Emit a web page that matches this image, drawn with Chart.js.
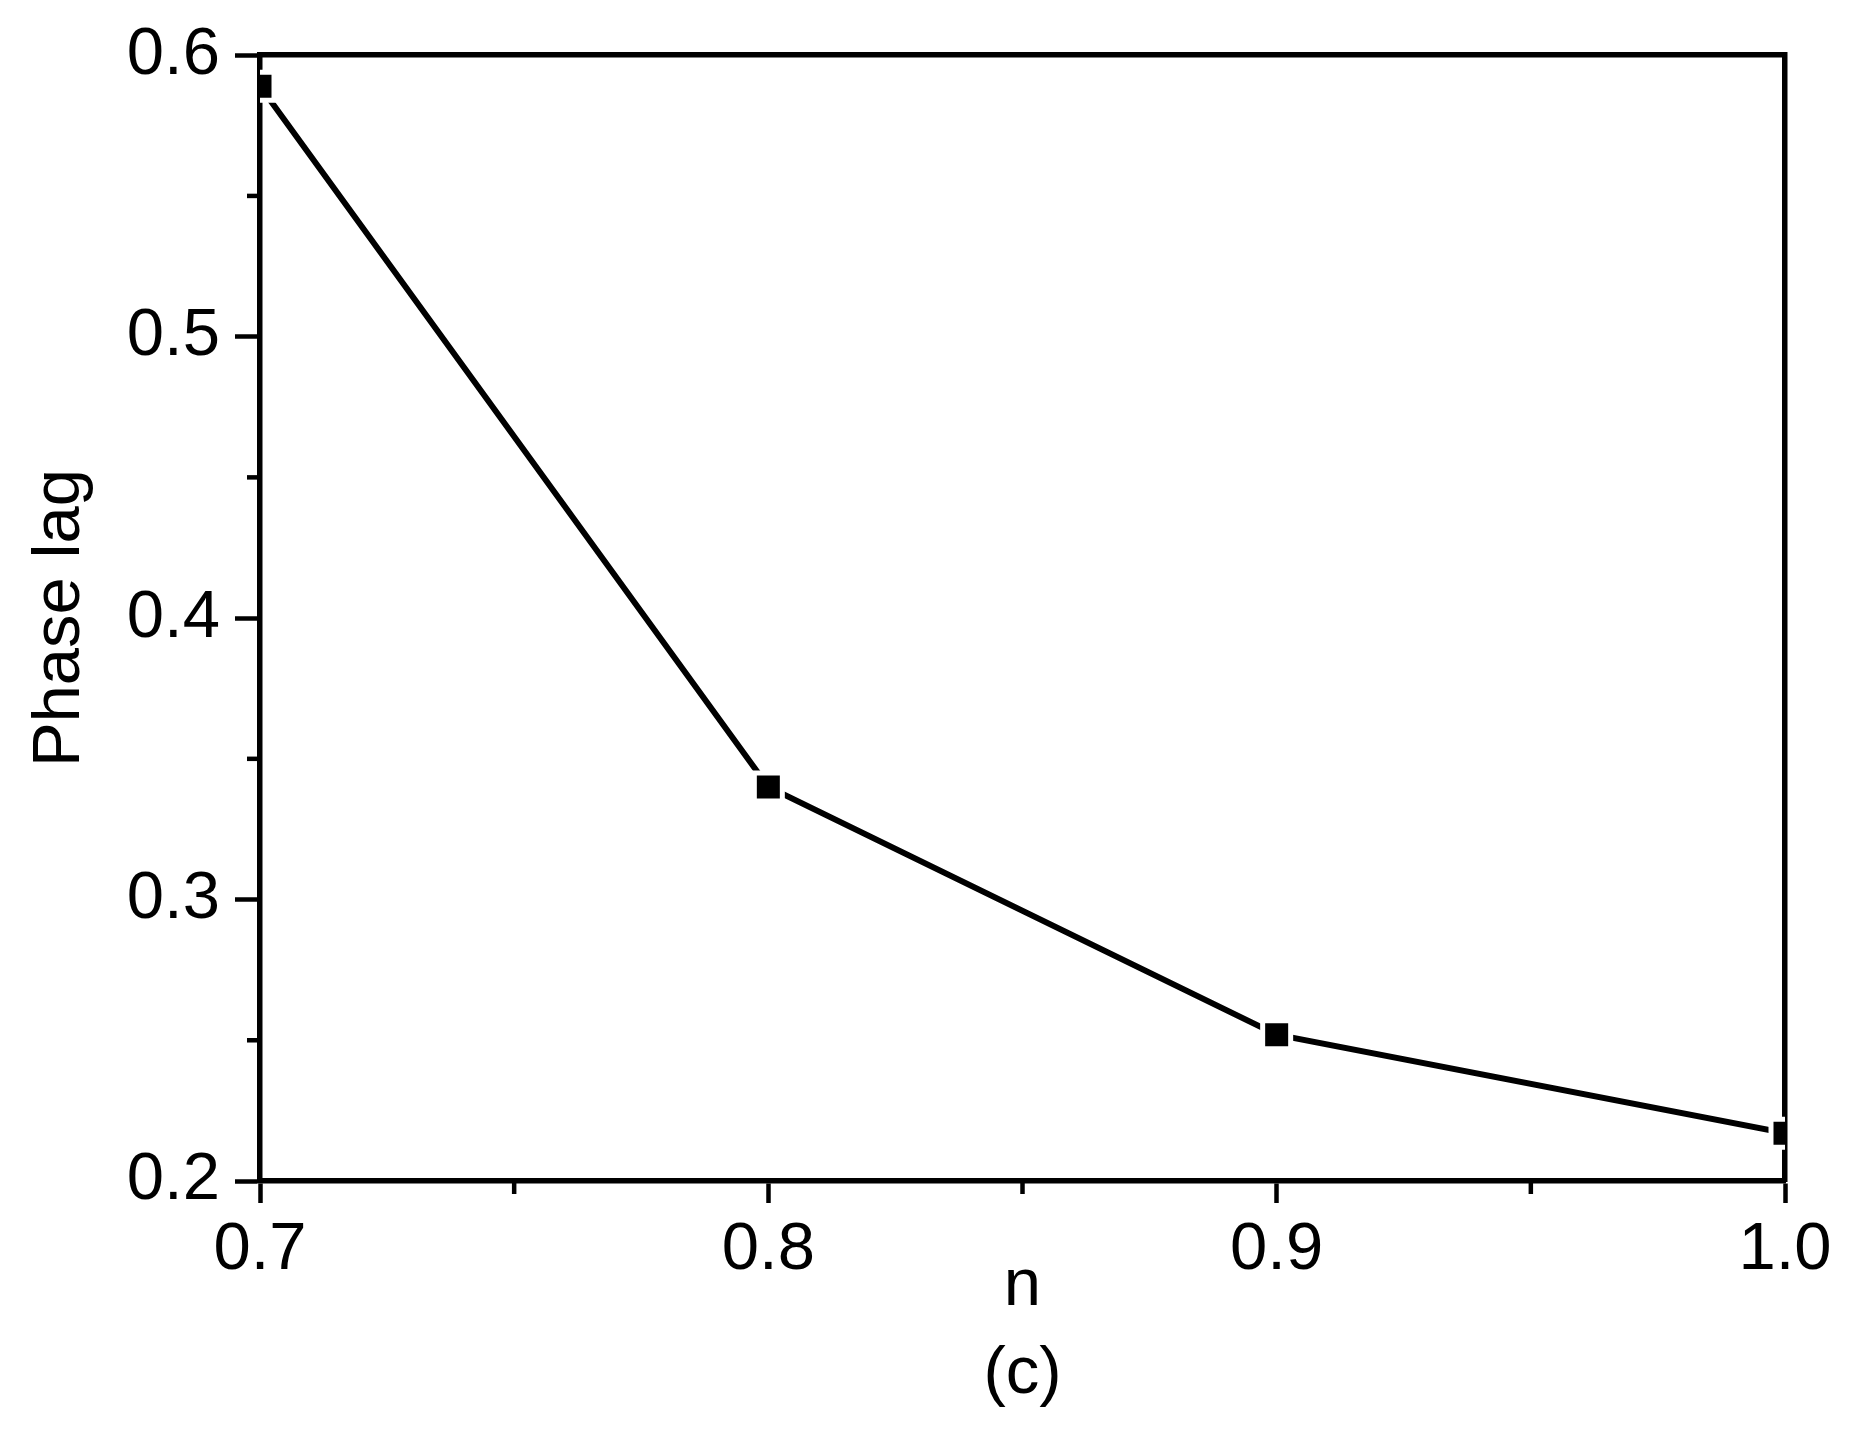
<!DOCTYPE html>
<html>
<head>
<meta charset="utf-8">
<title>Phase lag vs n</title>
<script src="https://cdn.jsdelivr.net/npm/chart.js@4"></script>
<style>
    html, body { margin: 0; padding: 0; background: #fff; }
    #wrap { width: 1849px; height: 1437px; }
</style>
</head>
<body>
<div id="wrap"><canvas id="phaseLagChart"></canvas></div>
<script>
const nValues = [0.7, 0.8, 0.9, 1.0];
const phaseLag = [0.589, 0.340, 0.252, 0.217];

const xTicks = [0.7, 0.8, 0.9, 1.0];
const xMinorTicks = [0.75, 0.85, 0.95];
const yTicks = [0.2, 0.3, 0.4, 0.5, 0.6];
const yMinorTicks = [0.25, 0.35, 0.45, 0.55];

const fontFamily = "'Liberation Sans', Arial, sans-serif";

// short outward ticks between the labelled ones
const minorTicksPlugin = {
    id: 'minorTicks',
    afterDraw(chart) {
        const ctx = chart.ctx;
        const area = chart.chartArea;
        const xScale = chart.scales.x;
        const yScale = chart.scales.y;
        ctx.save();
        ctx.strokeStyle = '#000';
        ctx.lineWidth = 4.5;
        xMinorTicks.forEach((v) => {
            const px = xScale.getPixelForValue(v);
            ctx.beginPath();
            ctx.moveTo(px, area.bottom);
            ctx.lineTo(px, area.bottom + 13);
            ctx.stroke();
        });
        yMinorTicks.forEach((v) => {
            const py = yScale.getPixelForValue(v);
            ctx.beginPath();
            ctx.moveTo(area.left, py);
            ctx.lineTo(area.left - 13, py);
            ctx.stroke();
        });
        ctx.restore();
    }
};

const ctx = document.getElementById('phaseLagChart').getContext('2d');

const phaseLagChart = new Chart(ctx, {
    type: 'line',
    data: {
        datasets: [{
            label: 'Phase lag',
            data: nValues.map((n, i) => ({ x: n, y: phaseLag[i] })),
            borderColor: '#000',
            borderWidth: 6,
            borderCapStyle: 'round',
            tension: 0,
            pointStyle: 'rect',
            pointRadius: 19.8,
            pointBackgroundColor: '#000',
            pointBorderColor: '#fff',
            pointBorderWidth: 5,
        }]
    },
    options: {
        responsive: true,
        maintainAspectRatio: false,
        animation: false,
        layout: {
            padding: { left: 0, right: 64, top: 55, bottom: 0 }
        },
        plugins: {
            legend: { display: false },
            tooltip: { enabled: false }
        },
        scales: {
            x: {
                type: 'linear',
                position: 'bottom',
                min: 0.7,
                max: 1.0,
                afterBuildTicks: (scale) => {
                    scale.ticks = xTicks.map(v => ({ value: v }));
                },
                afterFit: (scale) => { scale.height = 256; },
                border: { color: '#000', width: 5.5 },
                grid: {
                    drawOnChartArea: false,
                    drawTicks: true,
                    tickLength: 22,
                    tickWidth: 4.5,
                    tickColor: '#000'
                },
                ticks: {
                    color: '#000',
                    padding: 7,
                    maxRotation: 0,
                    font: { family: fontFamily, size: 67, lineHeight: 1.2 },
                    callback: (value) => Number(value).toFixed(1)
                },
                title: {
                    display: true,
                    text: ['n', '(c)'],
                    color: '#000',
                    padding: { top: 0, bottom: 18 },
                    font: { family: fontFamily, size: 67, lineHeight: '88px' }
                }
            },
            y: {
                type: 'linear',
                position: 'left',
                min: 0.2,
                max: 0.6,
                afterBuildTicks: (scale) => {
                    scale.ticks = yTicks.map(v => ({ value: v }));
                },
                afterFit: (scale) => { scale.width = 260; },
                border: { color: '#000', width: 5.5 },
                grid: {
                    drawOnChartArea: false,
                    drawTicks: true,
                    tickLength: 25,
                    tickWidth: 4.5,
                    tickColor: '#000'
                },
                ticks: {
                    color: '#000',
                    padding: 15,
                    font: { family: fontFamily, size: 67, lineHeight: 1.2 },
                    callback: (value) => Number(value).toFixed(1)
                },
                title: {
                    display: true,
                    text: 'Phase lag',
                    color: '#000',
                    padding: { top: 20, bottom: 0 },
                    font: { family: fontFamily, size: 67, lineHeight: 1.2 }
                }
            },
            // frame on top and right, no ticks there
            x2: {
                type: 'linear',
                position: 'top',
                afterFit: (scale) => { scale.height = 0; },
                border: { color: '#000', width: 5.5 },
                grid: { drawOnChartArea: false, drawTicks: false },
                ticks: { display: false }
            },
            y2: {
                type: 'linear',
                position: 'right',
                afterFit: (scale) => { scale.width = 0; },
                border: { color: '#000', width: 5.5 },
                grid: { drawOnChartArea: false, drawTicks: false },
                ticks: { display: false }
            }
        }
    },
    plugins: [minorTicksPlugin]
});
</script>
</body>
</html>
